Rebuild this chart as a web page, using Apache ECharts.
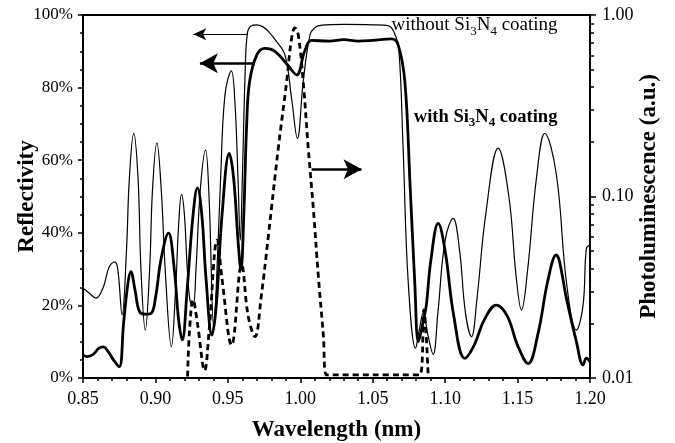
<!DOCTYPE html>
<html><head><meta charset="utf-8">
<script src="https://cdn.jsdelivr.net/npm/echarts@6/dist/echarts.min.js"></script>
<style>html,body{margin:0;padding:0;background:#fff}#c{width:675px;height:443px}</style>
</head><body><div id="c"></div>
<script>
// Reflectivity without Si3N4 coating (%)
const wlWithout = [0.850,0.854,0.859,0.864,0.868,0.872,0.874,0.877,0.880,0.882,0.885,0.888,0.890,0.893,0.896,0.898,0.901,0.904,0.907,0.911,0.914,0.916,0.918,0.920,0.922,0.924,0.926,0.928,0.931,0.9346,0.937,0.9403,0.942,0.945,0.948,0.9524,0.955,0.957,0.9586,0.960,0.962,0.9635,0.966,0.970,0.974,0.978,0.983,0.9894,0.994,0.998,1.002,1.0067,1.010,1.015,1.030,1.050,1.061,1.065,1.068,1.071,1.0745,1.0796,1.082,1.085,1.088,1.0917,1.095,1.100,1.1055,1.110,1.114,1.1182,1.122,1.128,1.1366,1.144,1.149,1.1527,1.157,1.163,1.1688,1.1768,1.1837,1.1906,1.1952,1.1975,1.200];
const rWithout  = [24.7,23.5,22.0,25.0,30.5,32.0,30.0,17.4,35,55,67.4,55,30,13.2,30,52,64.8,52,28,8.6,25,42,50.6,45,30,21,20,30,52,62.8,50,14,25,55,78,84.6,75,55,38,55,85,95,97,97.3,96.8,95.5,93,89,77,66,81.6,94.5,96.5,97.2,97.4,97.3,97,95,90.8,63,26.5,8.2,13,18,12,6.5,18,38,44,35,18,11.4,22,45,63.3,50,28,18.7,30,55,67.4,56,26.5,13.2,20,35.7,36.6];

// Reflectivity with Si3N4 coating (%)
const wlWith = [0.850,0.853,0.857,0.861,0.864,0.867,0.871,0.875,0.878,0.881,0.883,0.886,0.889,0.893,0.897,0.900,0.904,0.909,0.913,0.916,0.9185,0.922,0.926,0.929,0.932,0.935,0.939,0.942,0.946,0.951,0.954,0.957,0.959,0.961,0.963,0.965,0.970,0.9756,0.9825,0.9917,0.9975,1.003,1.0078,1.020,1.030,1.040,1.050,1.063,1.0676,1.0722,1.0757,1.079,1.0815,1.0835,1.0848,1.087,1.090,1.0952,1.100,1.106,1.1136,1.120,1.127,1.1354,1.143,1.150,1.1573,1.164,1.171,1.1768,1.179,1.1837,1.1906,1.1952,1.1975,1.200];
const rWith  = [6.3,5.9,6.5,8.2,8.6,7.5,5,3.1,15,26,29.3,24,18.3,17.6,17.8,22,33,39.9,30,16,10.5,25,45,52.4,45,27,11.8,20,45,61.9,55,38,29.8,45,70,81.6,89,90.8,90,86,83.5,90,93,92.8,93.2,92.8,93,93.4,91.7,81.6,54,26.5,10,13,15.5,20,32,42.6,35,17,5.4,9,16,20.1,17,9,4,12,27,33.9,32,22,10,3.6,5.5,4.5];

// Photoluminescence (a.u., log scale)
const wlPL = [0.9222,0.9235,0.926,0.929,0.934,0.937,0.9427,0.946,0.9526,0.9595,0.964,0.9687,0.973,0.978,0.9848,0.9906,0.994,0.9963,0.9986,1.002,1.0055,1.009,1.0124,1.0159,1.0182,1.050,1.0826,1.0853,1.0883];
const pl   = [0.0102,0.018,0.027,0.02,0.011,0.018,0.0575,0.035,0.0152,0.042,0.022,0.0169,0.028,0.061,0.184,0.43,0.745,0.85,0.776,0.43,0.184,0.086,0.037,0.0173,0.0104,0.0104,0.0104,0.0237,0.0102];

// Axis ticks
const xTicks = {min:0.85, max:1.20, interval:0.05};
const rTicks = {min:0, max:100, interval:20};
const plMinorTicks = [0.02,0.03,0.04,0.05,0.06,0.07,0.08,0.09,0.2,0.3,0.4,0.5,0.6,0.7,0.8,0.9];

const FONT = '"Liberation Serif","Times New Roman",serif';
const pair = (xs, ys) => xs.map((x,i)=>[x, ys[i]]);

const chart = echarts.init(document.getElementById('c'), null, {renderer:'canvas'});
const axisLabel = {color:'#000', fontFamily:FONT, fontSize:18};
const nameStyle = {color:'#000', fontFamily:FONT, fontSize:23, fontWeight:'bold'};

chart.setOption({
  animation:false,
  grid:{left:83, right:85, top:15, bottom:65, containLabel:false, outerBoundsMode:'none', show:true, borderColor:'#000', borderWidth:2, backgroundColor:'transparent'},
  xAxis:{
    type:'value', min:xTicks.min, max:xTicks.max, interval:xTicks.interval,
    name:'Wavelength (nm)', nameLocation:'middle', nameGap:41, nameMoveOverlap:false, nameTextStyle:nameStyle,
    axisLine:{lineStyle:{color:'#000', width:2}},
    axisTick:{show:true, length:5, lineStyle:{color:'#000', width:1.5}},
    minorTick:{show:true, splitNumber:5, length:3, lineStyle:{color:'#000', width:1.5}},
    splitLine:{show:false},
    axisLabel:Object.assign({}, axisLabel, {margin:12, formatter:v=>v.toFixed(2)})
  },
  yAxis:[{
    type:'value', min:rTicks.min, max:rTicks.max, interval:rTicks.interval, position:'left',
    name:'Reflectivity', nameLocation:'middle', nameGap:44, nameMoveOverlap:false, nameTextStyle:nameStyle,
    axisLine:{show:true, lineStyle:{color:'#000', width:2}},
    axisTick:{show:true, length:5, lineStyle:{color:'#000', width:1.5}},
    minorTick:{show:true, splitNumber:4, length:3, lineStyle:{color:'#000', width:1.5}},
    splitLine:{show:false},
    axisLabel:Object.assign({}, axisLabel, {fontSize:17, margin:10, formatter:v=>v+'%'})
  },{
    type:'log', logBase:10, min:0.01, max:1, position:'right',
    name:'Photoluminescence (a.u.)', nameLocation:'middle', nameGap:48, nameMoveOverlap:false, nameTextStyle:nameStyle,
    axisLine:{show:true, lineStyle:{color:'#000', width:2}},
    axisTick:{show:true, length:6, lineStyle:{color:'#000', width:1.5}},
    splitLine:{show:false},
    axisLabel:Object.assign({}, axisLabel, {margin:12, formatter:v=>Number(v).toFixed(2)})
  },{
    type:'value', min:-2, max:0, position:'right',
    axisLine:{show:false},
    axisTick:{show:true, length:4, customValues:plMinorTicks.map(v=>Math.log10(v)), lineStyle:{color:'#000', width:1.5}},
    axisLabel:{show:false}, splitLine:{show:false}
  }],
  series:[{
    type:'line', name:'without', data:pair(wlWithout, rWithout), yAxisIndex:0,
    smooth:0.4, showSymbol:false, lineStyle:{color:'#000', width:1.2},
    markLine:{silent:true, symbol:['none','arrow'], symbolSize:[9,13], label:{show:false},
      lineStyle:{color:'#000', width:1.2, type:'solid'},
      data:[[{coord:[0.9639, 94.7]}, {coord:[0.9261, 94.7]}]]}
  },{
    type:'line', name:'with', data:pair(wlWith, rWith), yAxisIndex:0,
    smooth:0.4, showSymbol:false, lineStyle:{color:'#000', width:2.8},
    markLine:{silent:true, symbol:['none','arrow'], symbolSize:[15,18], label:{show:false},
      lineStyle:{color:'#000', width:2.5, type:'solid'},
      data:[[{coord:[0.9687, 86.7]}, {coord:[0.9307, 86.7]}],
            [{coord:[1.0078, 57.5]}, {coord:[1.0423, 57.5]}]]}
  },{
    type:'line', name:'PL', data:pair(wlPL, pl), yAxisIndex:1,
    smooth:0.4, showSymbol:false, lineStyle:{color:'#000', width:2.8, type:[6,4]}
  }]
});

const p1 = chart.convertToPixel({xAxisIndex:0, yAxisIndex:0}, [1.063, 97.2]);
const p2 = chart.convertToPixel({xAxisIndex:0, yAxisIndex:0}, [1.0784, 71.9]);
const rich = (bold)=>({
  s:{fontSize:13, fontFamily:FONT, fontWeight:bold?'bold':'normal', fill:'#000', verticalAlign:'bottom', lineHeight:25}
});
chart.setOption({graphic:[
  {type:'text', x:p1[0], y:p1[1], style:{text:'without Si{s|3}N{s|4} coating', fill:'#000', fontFamily:FONT, fontSize:19, verticalAlign:'middle', align:'left', lineHeight:25, rich:rich(false)}},
  {type:'text', x:p2[0], y:p2[1], style:{text:'with Si{s|3}N{s|4} coating', fill:'#000', fontFamily:FONT, fontSize:18.5, fontWeight:'bold', verticalAlign:'middle', align:'left', lineHeight:25, rich:rich(true)}}
]});
</script></body></html>
